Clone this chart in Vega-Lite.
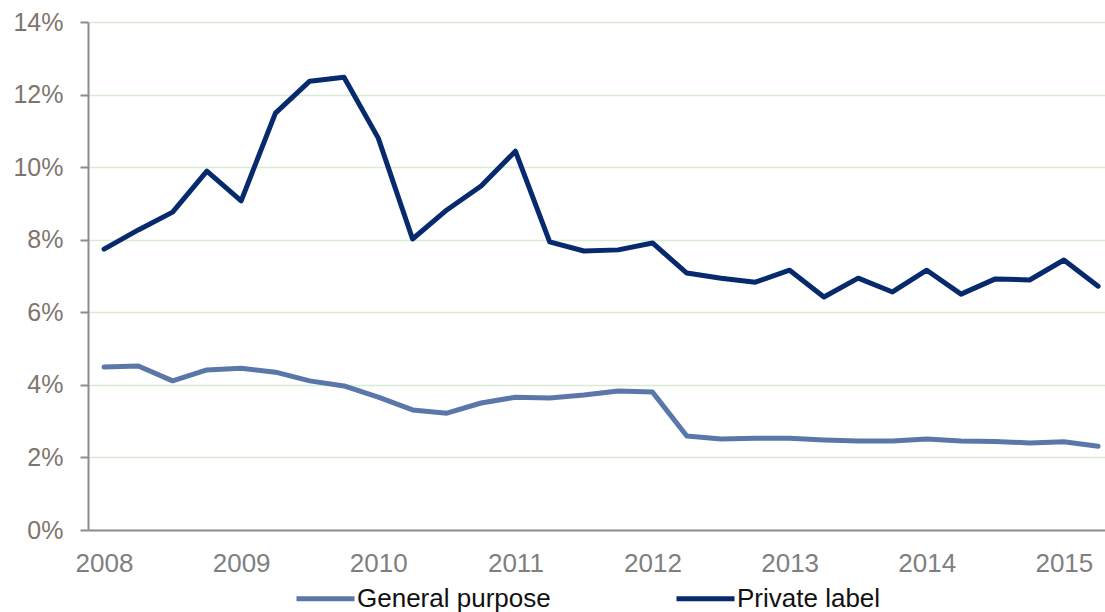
{
  "$schema": "https://vega.github.io/schema/vega-lite/v6.json",
  "width": 1017,
  "height": 508,
  "autosize": {"type": "none"},
  "padding": {"left": 88, "top": 22, "right": 0, "bottom": 82},
  "background": "white",
  "config": {
    "view": {"stroke": null},
    "font": "Liberation Sans"
  },
  "data": {
    "values": [
      {"t": 2008.00, "series": "Private label", "value": 7.74},
      {"t": 2008.25, "series": "Private label", "value": 8.27},
      {"t": 2008.50, "series": "Private label", "value": 8.76},
      {"t": 2008.75, "series": "Private label", "value": 9.89},
      {"t": 2009.00, "series": "Private label", "value": 9.07},
      {"t": 2009.25, "series": "Private label", "value": 11.49},
      {"t": 2009.50, "series": "Private label", "value": 12.37},
      {"t": 2009.75, "series": "Private label", "value": 12.48},
      {"t": 2010.00, "series": "Private label", "value": 10.80},
      {"t": 2010.25, "series": "Private label", "value": 8.02},
      {"t": 2010.50, "series": "Private label", "value": 8.82},
      {"t": 2010.75, "series": "Private label", "value": 9.48},
      {"t": 2011.00, "series": "Private label", "value": 10.44},
      {"t": 2011.25, "series": "Private label", "value": 7.94},
      {"t": 2011.50, "series": "Private label", "value": 7.69},
      {"t": 2011.75, "series": "Private label", "value": 7.72},
      {"t": 2012.00, "series": "Private label", "value": 7.91},
      {"t": 2012.25, "series": "Private label", "value": 7.08},
      {"t": 2012.50, "series": "Private label", "value": 6.94},
      {"t": 2012.75, "series": "Private label", "value": 6.83},
      {"t": 2013.00, "series": "Private label", "value": 7.16},
      {"t": 2013.25, "series": "Private label", "value": 6.42},
      {"t": 2013.50, "series": "Private label", "value": 6.94},
      {"t": 2013.75, "series": "Private label", "value": 6.56},
      {"t": 2014.00, "series": "Private label", "value": 7.16},
      {"t": 2014.25, "series": "Private label", "value": 6.50},
      {"t": 2014.50, "series": "Private label", "value": 6.92},
      {"t": 2014.75, "series": "Private label", "value": 6.89},
      {"t": 2015.00, "series": "Private label", "value": 7.44},
      {"t": 2015.25, "series": "Private label", "value": 6.72},
      {"t": 2008.00, "series": "General purpose", "value": 4.49},
      {"t": 2008.25, "series": "General purpose", "value": 4.52},
      {"t": 2008.50, "series": "General purpose", "value": 4.11},
      {"t": 2008.75, "series": "General purpose", "value": 4.41},
      {"t": 2009.00, "series": "General purpose", "value": 4.46},
      {"t": 2009.25, "series": "General purpose", "value": 4.35},
      {"t": 2009.50, "series": "General purpose", "value": 4.11},
      {"t": 2009.75, "series": "General purpose", "value": 3.97},
      {"t": 2010.00, "series": "General purpose", "value": 3.66},
      {"t": 2010.25, "series": "General purpose", "value": 3.31},
      {"t": 2010.50, "series": "General purpose", "value": 3.22},
      {"t": 2010.75, "series": "General purpose", "value": 3.50},
      {"t": 2011.00, "series": "General purpose", "value": 3.66},
      {"t": 2011.25, "series": "General purpose", "value": 3.64},
      {"t": 2011.50, "series": "General purpose", "value": 3.72},
      {"t": 2011.75, "series": "General purpose", "value": 3.83},
      {"t": 2012.00, "series": "General purpose", "value": 3.80},
      {"t": 2012.25, "series": "General purpose", "value": 2.59},
      {"t": 2012.50, "series": "General purpose", "value": 2.51},
      {"t": 2012.75, "series": "General purpose", "value": 2.53},
      {"t": 2013.00, "series": "General purpose", "value": 2.53},
      {"t": 2013.25, "series": "General purpose", "value": 2.48},
      {"t": 2013.50, "series": "General purpose", "value": 2.45},
      {"t": 2013.75, "series": "General purpose", "value": 2.45},
      {"t": 2014.00, "series": "General purpose", "value": 2.51},
      {"t": 2014.25, "series": "General purpose", "value": 2.45},
      {"t": 2014.50, "series": "General purpose", "value": 2.44},
      {"t": 2014.75, "series": "General purpose", "value": 2.40},
      {"t": 2015.00, "series": "General purpose", "value": 2.43},
      {"t": 2015.25, "series": "General purpose", "value": 2.31}
    ]
  },
  "mark": {"type": "line", "strokeWidth": 5, "strokeJoin": "round", "strokeCap": "round"},
  "encoding": {
    "x": {
      "field": "t",
      "type": "quantitative",
      "scale": {"domain": [2007.883, 2015.3], "nice": false, "zero": false},
      "axis": {
        "title": null,
        "values": [2008, 2009, 2010, 2011, 2012, 2013, 2014, 2015],
        "format": "d",
        "grid": false,
        "ticks": false,
        "domainColor": "#8c8c8c",
        "domainWidth": 2,
        "labelColor": "#7f7f7f",
        "labelFontSize": 26,
        "labelPadding": 20,
        "labelFlush": false
      }
    },
    "y": {
      "field": "value",
      "type": "quantitative",
      "scale": {"domain": [0, 14], "nice": false},
      "axis": {
        "title": null,
        "values": [0, 2, 4, 6, 8, 10, 12, 14],
        "labelExpr": "datum.value + '%'",
        "grid": true,
        "gridColor": "#d9ebd3",
        "gridWidth": 1.5,
        "ticks": true,
        "tickSize": 8,
        "tickColor": "#8c8c8c",
        "tickWidth": 2,
        "domainColor": "#8c8c8c",
        "domainWidth": 2,
        "labelColor": "#7f756c",
        "labelFontSize": 25,
        "labelPadding": 17
      }
    },
    "color": {
      "field": "series",
      "type": "nominal",
      "scale": {"domain": ["General purpose", "Private label"], "range": ["#5a77a9", "#062a6d"]},
      "legend": {
        "title": null,
        "orient": "none",
        "direction": "horizontal",
        "legendX": 206,
        "legendY": 545,
        "symbolType": "stroke",
        "symbolSize": 3364,
        "symbolStrokeWidth": 5,
        "labelFontSize": 26,
        "labelColor": "#111111",
        "labelOffset": 0,
        "labelLimit": 400,
        "columnPadding": 115,
        "padding": 0
      }
    }
  }
}
